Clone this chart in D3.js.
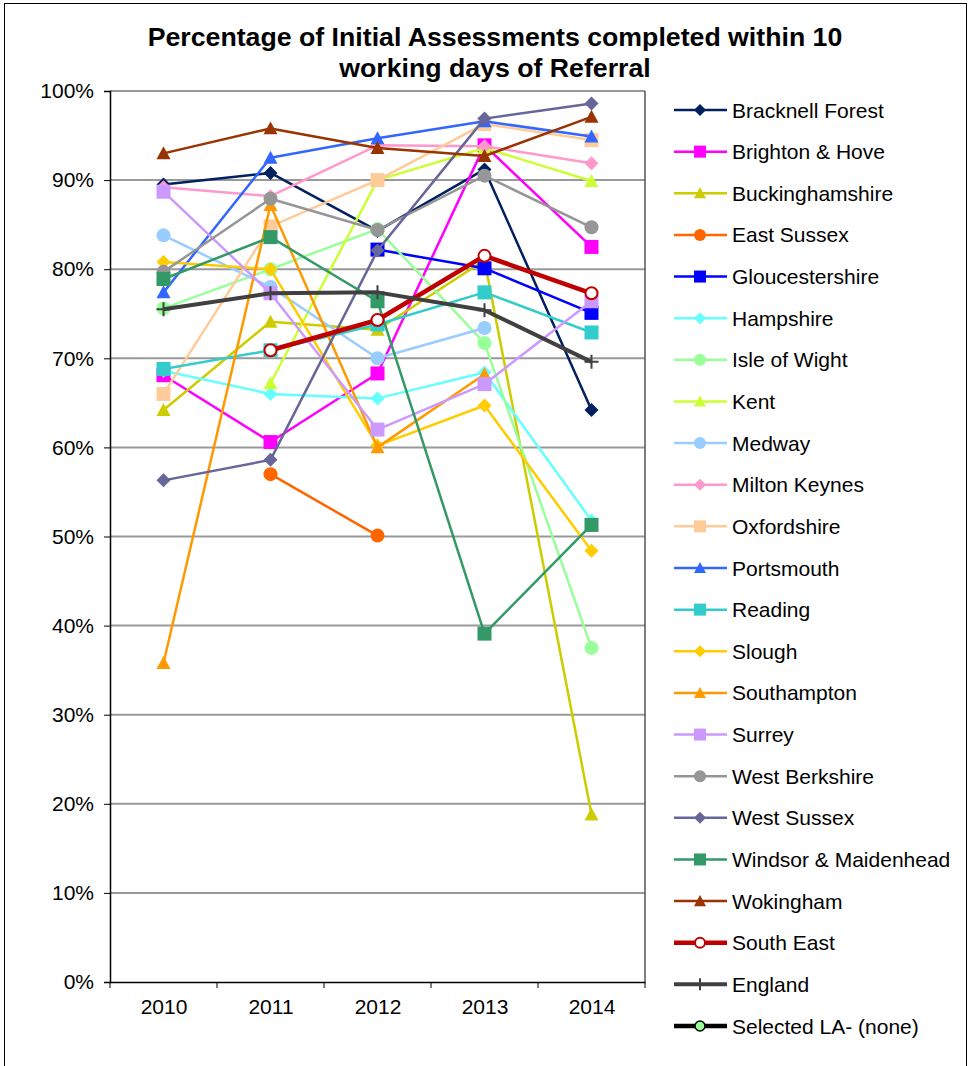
<!doctype html>
<html lang="en">
<head>
  <meta charset="utf-8">
  <title>Initial Assessments</title>
  <script src="https://d3js.org/d3.v7.min.js"></script>
  <style>
    body { margin: 0; background: #fff; }
    text { font-family: Arial, "Liberation Sans", sans-serif; }
  </style>
</head>
<body>
<svg id="chart" width="972" height="1066"></svg>

<script>
    // years on the x axis
    var years = ["2010", "2011", "2012", "2013", "2014"];
    var yTicks = [0, 0.1, 0.2, 0.3, 0.4, 0.5, 0.6, 0.7, 0.8, 0.9, 1.0];

    // values in % (null = no value)
    var bracknellForest   = [89.5, 90.8, 84.3, 91.2, 64.2];
    var brightonHove      = [68.1, 60.6, 68.3, 93.9, 82.5];
    var buckinghamshire   = [64.2, 74.1, 73.2, 81.0, 18.8];
    var eastSussex        = [null, 57.0, 50.1, null, null];
    var gloucestershire   = [null, null, 82.2, 80.1, 75.1];
    var hampshire         = [68.6, 66.0, 65.5, 68.4, 51.8];
    var isleOfWight       = [75.6, 80.0, 84.5, 71.7, 37.5];
    var kent              = [null, 67.2, 90.0, 93.6, 89.9];
    var medway            = [83.8, 78.0, 70.0, 73.4, null];
    var miltonKeynes      = [89.2, 88.2, 93.9, 93.8, 91.9];
    var oxfordshire       = [66.0, 84.8, 90.0, 96.3, 94.5];
    var portsmouth        = [77.4, 92.5, 94.7, 96.6, 94.9];
    var reading           = [68.8, 70.9, 73.8, 77.4, 72.9];
    var slough            = [80.8, 80.0, 60.2, 64.7, 48.4];
    var southampton       = [35.8, 87.2, 60.0, 68.2, null];
    var surrey            = [88.7, 77.3, 62.0, 67.1, 76.4];
    var westBerkshire     = [79.7, 87.9, 84.4, 90.5, 84.7];
    var westSussex        = [56.3, 58.6, 82.1, 96.9, 98.6];
    var windsorMaidenhead = [78.9, 83.6, 76.4, 39.1, 51.3];
    var wokingham         = [93.0, 95.8, 93.6, 92.7, 97.1];
    var southEast         = [null, 70.9, 74.3, 81.5, 77.3];
    var england           = [75.5, 77.3, 77.4, 75.4, 69.6];
    var selectedLA        = [null, null, null, null, null];

    var series = [
      {name: "Bracknell Forest", values: bracknellForest, color: "#002060", shape: "diamond"},
      {name: "Brighton & Hove", values: brightonHove, color: "#ff00ff", shape: "square"},
      {name: "Buckinghamshire", values: buckinghamshire, color: "#cccc00", shape: "triangle"},
      {name: "East Sussex", values: eastSussex, color: "#ff6600", shape: "circle"},
      {name: "Gloucestershire", values: gloucestershire, color: "#0000ff", shape: "square"},
      {name: "Hampshire", values: hampshire, color: "#66ffff", shape: "diamond"},
      {name: "Isle of Wight", values: isleOfWight, color: "#99ff99", shape: "circle"},
      {name: "Kent", values: kent, color: "#ccff33", shape: "triangle"},
      {name: "Medway", values: medway, color: "#99ccff", shape: "circle"},
      {name: "Milton Keynes", values: miltonKeynes, color: "#ff99cc", shape: "diamond"},
      {name: "Oxfordshire", values: oxfordshire, color: "#ffcc99", shape: "square"},
      {name: "Portsmouth", values: portsmouth, color: "#3366ff", shape: "triangle"},
      {name: "Reading", values: reading, color: "#33cccc", shape: "square"},
      {name: "Slough", values: slough, color: "#ffcc00", shape: "diamond"},
      {name: "Southampton", values: southampton, color: "#ff9900", shape: "triangle"},
      {name: "Surrey", values: surrey, color: "#cc99ff", shape: "square"},
      {name: "West Berkshire", values: westBerkshire, color: "#969696", shape: "circle"},
      {name: "West Sussex", values: westSussex, color: "#666699", shape: "diamond"},
      {name: "Windsor & Maidenhead", values: windsorMaidenhead, color: "#339966", shape: "square"},
      {name: "Wokingham", values: wokingham, color: "#993300", shape: "triangle"},
      {name: "South East", values: southEast, color: "#c00000", shape: "ring", width: 4.5},
      {name: "England", values: england, color: "#404040", shape: "plus", width: 4},
      {name: "Selected LA- (none)", values: selectedLA, color: "#000000", shape: "dot", width: 4.5}
    ];

    var svg = d3.select("#chart");

    var plotLeft = 110, plotRight = 645, plotTop = 91, plotBottom = 982;

    var x = d3.scalePoint().domain(years).range([plotLeft, plotRight]).padding(0.5);
    var y = d3.scaleLinear().domain([0, 1]).range([plotBottom, plotTop]);

    // outer frame
    svg.append("rect").attr("x", 4.5).attr("y", 3.5).attr("width", 962).attr("height", 1070)
      .attr("fill", "none").attr("stroke", "#000").attr("stroke-width", 1);

    // title
    var title = svg.append("text").attr("text-anchor", "middle")
      .style("font-weight", "bold").style("font-size", "26.7px");
    title.append("tspan").attr("x", 495).attr("y", 46).text("Percentage of Initial Assessments completed within 10");
    title.append("tspan").attr("x", 495).attr("y", 77).text("working days of Referral");

    // gridlines
    svg.append("g").selectAll("line").data(yTicks.slice(1)).join("line")
      .attr("x1", plotLeft).attr("x2", plotRight)
      .attr("y1", d => y(d)).attr("y2", d => y(d))
      .attr("stroke", "#999").attr("stroke-width", 2);

    // right edge of plot
    svg.append("line").attr("x1", plotRight).attr("x2", plotRight).attr("y1", plotTop).attr("y2", plotBottom)
      .attr("stroke", "#555").attr("stroke-width", 1.5);

    // y axis
    var yAxis = d3.axisLeft(y).tickValues(yTicks).tickFormat(d3.format(".0%")).tickSize(6).tickPadding(10);
    var gy = svg.append("g").attr("transform", "translate(" + plotLeft + ",0)").call(yAxis);
    gy.select(".domain").attr("stroke", "#000").attr("stroke-width", 1.5);
    gy.selectAll(".tick line").attr("stroke", "#000");
    gy.selectAll("text").style("font-size", "21px").style("font-family", "Arial, 'Liberation Sans', sans-serif").attr("fill", "#000");

    // x axis: ticks sit between categories
    var bandStep = x.step();
    var xAxis = d3.axisBottom(x).tickSize(0).tickPadding(17);
    var gx = svg.append("g").attr("transform", "translate(0," + plotBottom + ")").call(xAxis);
    gx.select(".domain").attr("stroke", "#000").attr("stroke-width", 1.5);
    gx.selectAll("text").style("font-size", "21px").style("font-family", "Arial, 'Liberation Sans', sans-serif").attr("fill", "#000");
    var bounds = d3.range(years.length + 1).map(i => plotLeft + i * bandStep);
    gx.selectAll(".sep").data(bounds).join("line").attr("class", "sep")
      .attr("x1", d => d).attr("x2", d => d).attr("y1", 0).attr("y2", 6)
      .attr("stroke", "#000");

    // marker drawing
    function marker(g, shape, color, s) {
      var h = s / 2;
      if (shape === "square") {
        g.append("rect").attr("x", -h).attr("y", -h).attr("width", s).attr("height", s).attr("fill", color);
      } else if (shape === "diamond") {
        g.append("path").attr("d", "M0," + (-h) + "L" + h + ",0L0," + h + "L" + (-h) + ",0Z").attr("fill", color);
      } else if (shape === "triangle") {
        g.append("path").attr("d", "M0," + (-h) + "L" + h + "," + (h * 0.85) + "L" + (-h) + "," + (h * 0.85) + "Z").attr("fill", color);
      } else if (shape === "circle") {
        g.append("circle").attr("r", h).attr("fill", color);
      } else if (shape === "ring") {
        g.append("circle").attr("r", h - 1).attr("fill", "#fff").attr("stroke", color).attr("stroke-width", 2);
      } else if (shape === "plus") {
        g.append("path").attr("d", "M" + (-h) + ",0H" + h + "M0," + (-h) + "V" + h)
          .attr("stroke", color).attr("stroke-width", 2);
      } else if (shape === "dot") {
        g.append("circle").attr("r", h - 1).attr("fill", "#99ff99").attr("stroke", "#000").attr("stroke-width", 1.5);
      }
    }

    var line = d3.line()
      .defined(d => d.v != null)
      .x(d => x(d.year))
      .y(d => y(d.v / 100));

    var plot = svg.append("g");
    series.forEach(function(s) {
      var pts = years.map((yr, i) => ({year: yr, v: s.values[i]}));
      plot.append("path").datum(pts).attr("d", line)
        .attr("fill", "none").attr("stroke", s.color).attr("stroke-width", s.width || 2.5)
        .attr("stroke-linejoin", "round");
      pts.filter(d => d.v != null).forEach(function(d) {
        var g = plot.append("g").attr("transform", "translate(" + x(d.year) + "," + y(d.v / 100) + ")");
        marker(g, s.shape, s.color, 14);
      });
    });

    // legend
    var legend = svg.append("g");
    var rowStep = (1026 - 110) / (series.length - 1);
    series.forEach(function(s, i) {
      var ly = 110 + i * rowStep;
      var g = legend.append("g").attr("transform", "translate(0," + ly + ")");
      g.append("line").attr("x1", 674).attr("x2", 727).attr("y1", 0).attr("y2", 0)
        .attr("stroke", s.color).attr("stroke-width", s.width || 2.5);
      var m = g.append("g").attr("transform", "translate(700,0)");
      marker(m, s.shape, s.color, 12);
      g.append("text").attr("x", 732).attr("y", 7.5).style("font-size", "21px").text(s.name);
    });
</script>
</body>
</html>
